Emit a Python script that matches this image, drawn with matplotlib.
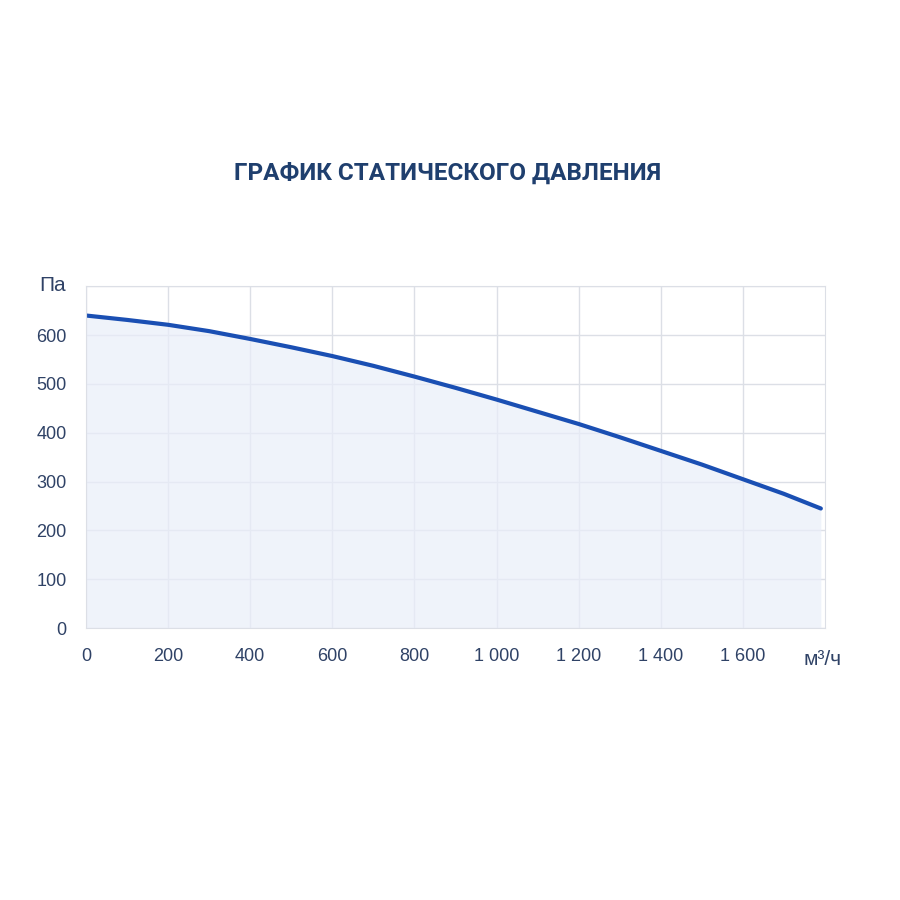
import matplotlib.pyplot as plt
from matplotlib.ticker import FuncFormatter

# Values
flow = [0, 100, 200, 300, 400, 500, 600, 700, 800, 900, 1000, 1100, 1200, 1300, 1400, 1500, 1600, 1700, 1790]
pressure = [640, 631, 621, 608, 592, 575, 557, 537, 515, 492, 468, 443, 418, 391, 363, 335, 305, 275, 245]
x_ticks = [0, 200, 400, 600, 800, 1000, 1200, 1400, 1600]
y_ticks = [0, 100, 200, 300, 400, 500, 600]

TITLE = "ГРАФИК СТАТИЧЕСКОГО ДАВЛЕНИЯ"
LINE_COLOR = "#1a4fb3"
TEXT_COLOR = "#2f4266"

plt.rcParams["font.family"] = ["Liberation Sans", "DejaVu Sans"]

fig = plt.figure(figsize=(9, 9), dpi=100)
ax = fig.add_axes([0.0956, 0.302, 0.821, 0.38])

ax.fill_between(flow, pressure, 0, color="#e9eef9", alpha=0.7, lw=0)
ax.plot(flow, pressure, color=LINE_COLOR, lw=3, solid_capstyle="round")

ax.set_xlim(0, 1800)
ax.set_ylim(0, 700)
ax.set_xticks(x_ticks)
ax.set_yticks(y_ticks + [700])
ax.xaxis.set_major_formatter(FuncFormatter(lambda v, p: f"{int(v):,}".replace(",", " ")))
ax.yaxis.set_major_formatter(FuncFormatter(lambda v, p: "" if v >= 700 else f"{int(v)}"))
ax.grid(True, color="#dcdfe6", lw=1)
ax.set_axisbelow(True)
for s in ax.spines.values():
    s.set_color("#dcdfe6")
ax.tick_params(length=0, labelsize=13, colors=TEXT_COLOR, pad=14)

fig.text(0.497, 0.808, TITLE, ha="center", va="center", fontsize=17.5,
         fontweight="bold", color="#1f3f6e", family=["Roboto", "DejaVu Sans"])
fig.text(0.044, 0.683, "Па", ha="left", va="center", fontsize=15, color=TEXT_COLOR)
fig.text(0.893, 0.267, "м³/ч", ha="left", va="center", fontsize=15, color=TEXT_COLOR)

fig.savefig("out.png", dpi=100, facecolor="white")
